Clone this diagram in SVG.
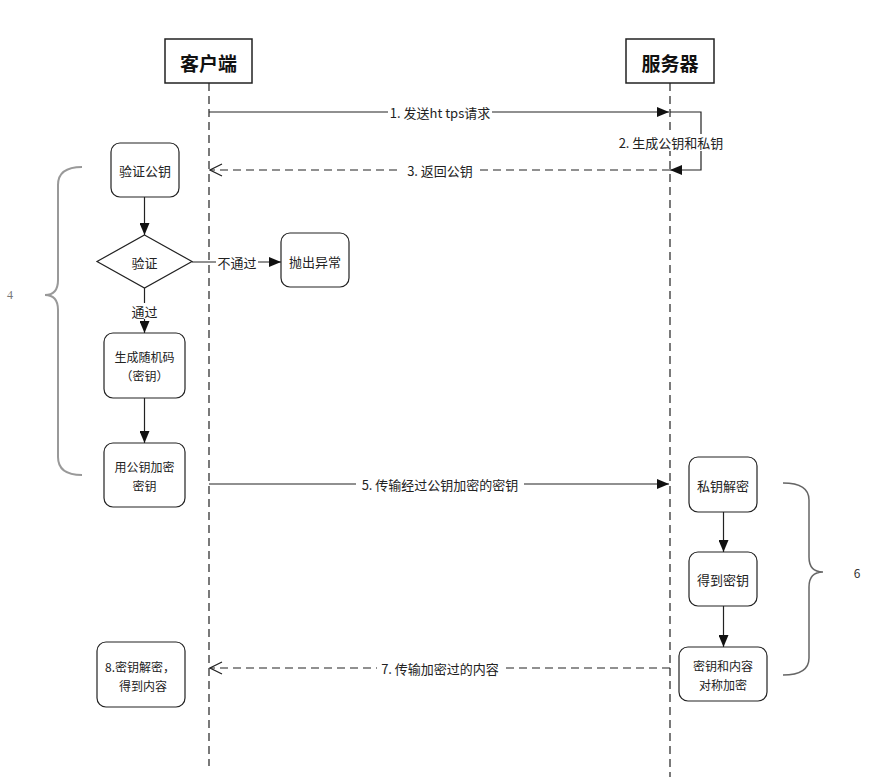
<svg xmlns="http://www.w3.org/2000/svg" width="873" height="779" viewBox="0 0 873 779">
<style>
text{font-family:"Noto Sans CJK SC","Liberation Sans",sans-serif;font-size:13px;fill:#222;text-anchor:middle;dominant-baseline:central}
.ml{font-size:12px}
.hdr{font-size:19px;font-weight:bold;fill:#111}
.head{fill:#fff;stroke:#222;stroke-width:1.5}
.box{fill:#fff;stroke:#222;stroke-width:1.2}
.life{fill:none;stroke:#222;stroke-width:1.2;stroke-dasharray:8 5}
.msg{fill:none;stroke:#222;stroke-width:1.2}
.dash{stroke-dasharray:8 5}
.bg{fill:#fff;stroke:none}
.brace{fill:none;stroke:#999;stroke-width:2}
</style>
<defs>
<marker id="fill" viewBox="0 0 12 10" refX="12" refY="5" markerWidth="12" markerHeight="10" orient="auto" markerUnits="userSpaceOnUse"><path d="M0,0 L12,5 L0,10 z" fill="#111" stroke="none"/></marker>
<marker id="open" viewBox="0 0 14 14" refX="13" refY="7" markerWidth="14" markerHeight="14" orient="auto" markerUnits="userSpaceOnUse"><path d="M1,1 L13,7 L1,13" fill="none" stroke="#222" stroke-width="1.2" stroke-dasharray="none"/></marker>
</defs>

<g id="lifelines">
<line class="life" x1="209" y1="83" x2="209" y2="766"/>
<line class="life" x1="670" y1="83" x2="670" y2="777"/>
</g>

<g id="client"><rect class="head" x="165" y="39" width="87" height="44"/><text class="hdr" x="208.5" y="62">客户端</text></g>
<g id="server"><rect class="head" x="626" y="39" width="88" height="44"/><text class="hdr" x="670" y="62">服务器</text></g>

<g id="connectors">
<line class="msg" x1="209" y1="112" x2="669" y2="112" marker-end="url(#fill)"/>
<polyline class="msg" points="670,112 701,112 701,170 670,170" marker-end="url(#fill)"/>
<line class="msg dash" x1="670" y1="170" x2="210" y2="170" marker-end="url(#open)"/>
<line class="msg" x1="144.5" y1="197" x2="144.5" y2="235" marker-end="url(#fill)"/>
<line class="msg" x1="192" y1="262" x2="281" y2="262" marker-end="url(#fill)"/>
<line class="msg" x1="144.5" y1="288" x2="144.5" y2="333" marker-end="url(#fill)"/>
<line class="msg" x1="144.5" y1="398" x2="144.5" y2="443" marker-end="url(#fill)"/>
<line class="msg" x1="209" y1="484" x2="669" y2="484" marker-end="url(#fill)"/>
<line class="msg" x1="723.5" y1="512" x2="723.5" y2="552" marker-end="url(#fill)"/>
<line class="msg" x1="723.5" y1="606" x2="723.5" y2="647" marker-end="url(#fill)"/>
<line class="msg dash" x1="670" y1="668" x2="210" y2="668" marker-end="url(#open)"/>
</g>

<g id="labels">
<rect class="bg" x="388" y="104" width="104" height="16"/><text x="440" y="112">1. 发送ht tps请求</text>
<rect class="bg" x="616" y="134" width="110" height="17"/><text x="671" y="142">2. 生成公钥和私钥</text>
<rect class="bg" x="402" y="162" width="76" height="16"/><text x="440" y="170">3. 返回公钥</text>
<rect class="bg" x="216" y="254" width="42" height="16"/><text x="237" y="262">不通过</text>
<rect class="bg" x="129" y="303" width="31" height="16"/><text x="144.5" y="311">通过</text>
<rect class="bg" x="356" y="476" width="168" height="16"/><text x="440" y="484">5. 传输经过公钥加密的密钥</text>
<rect class="bg" x="377" y="660" width="126" height="16"/><text x="440" y="668">7. 传输加密过的内容</text>
</g>

<g id="n-verify-key"><rect class="box" x="111" y="143" width="68" height="54" rx="9"/><text x="145" y="170">验证公钥</text></g>
<g id="n-verify"><polygon class="box" points="144.5,235 192,261.5 144.5,288 97,261.5"/><text x="144.5" y="262">验证</text></g>
<g id="n-throw"><rect class="box" x="281" y="233" width="68" height="54" rx="9"/><text x="315" y="261">抛出异常</text></g>
<g id="n-gen"><rect class="box" x="104" y="333" width="81" height="65" rx="9"/><text class="ml" x="144.5" y="356">生成随机码</text><text class="ml" x="144.5" y="375">（密钥）</text></g>
<g id="n-enc"><rect class="box" x="104" y="443" width="81" height="64" rx="9"/><text class="ml" x="144.5" y="466">用公钥加密</text><text class="ml" x="144.5" y="485">密钥</text></g>
<g id="n-decrypt"><rect class="box" x="689" y="457" width="68" height="55" rx="9"/><text x="723" y="485">私钥解密</text></g>
<g id="n-get"><rect class="box" x="689" y="552" width="68" height="54" rx="9"/><text x="723" y="579">得到密钥</text></g>
<g id="n-sym"><rect class="box" x="679" y="647" width="88" height="54" rx="9"/><text class="ml" x="723" y="665">密钥和内容</text><text class="ml" x="723" y="684">对称加密</text></g>
<g id="n-final"><rect class="box" x="97" y="642" width="88" height="65" rx="9"/><text class="ml" x="140" y="666">8.密钥解密，</text><text class="ml" x="143" y="685">得到内容</text></g>

<g id="brace4"><path class="brace" d="M82,167 Q58,167 58,185 L58,280 Q58,295 45,295 Q58,295 58,310 L58,457 Q58,475 82,475"/><text x="10" y="295" style="font-family:'Liberation Serif',serif;font-size:12px;fill:#777">4</text></g>
<g id="brace6"><path class="brace" style="stroke:#666;stroke-width:1.5" d="M783,483 Q809,483 809,500 L809,557 Q809,572 823,572 Q809,572 809,587 L809,658 Q809,675 783,675"/><text x="857" y="572" style="font-size:12px;fill:#333">6</text></g>
</svg>
